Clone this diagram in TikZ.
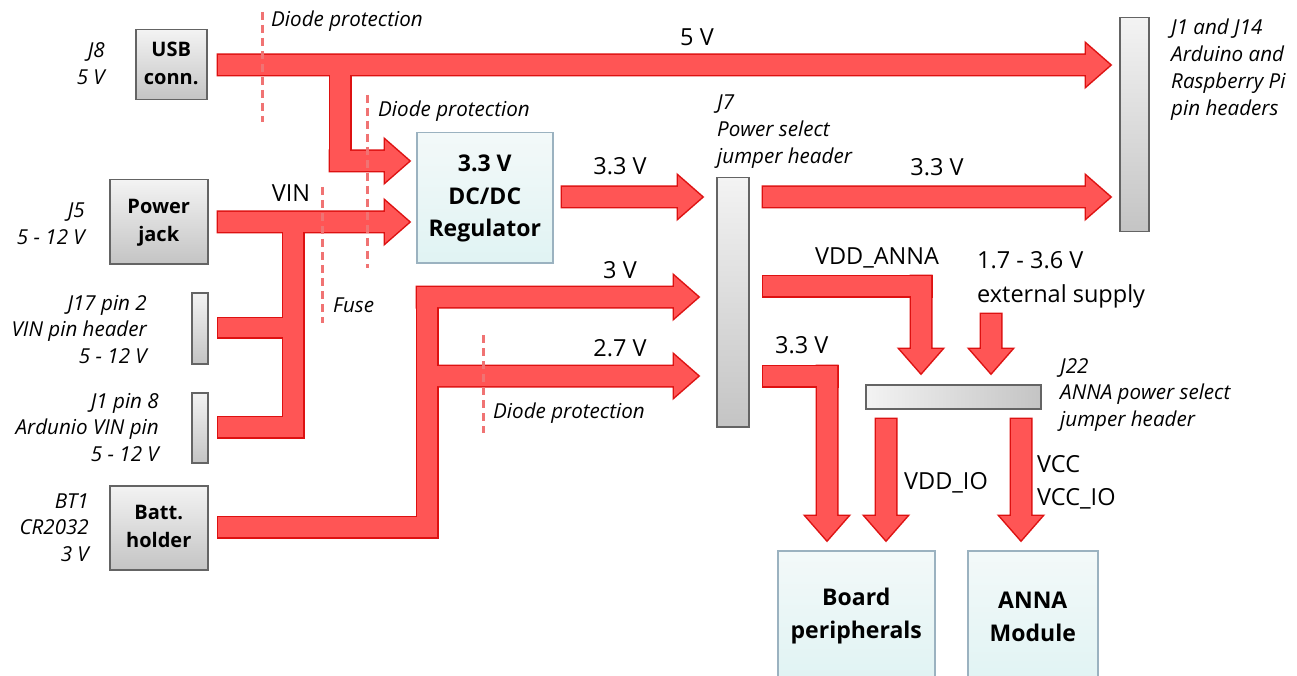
\documentclass[tikz,border=0pt]{standalone}
\usepackage{fontspec}
\setmainfont{Open Sans}
\usetikzlibrary{shadings}
\definecolor{redfill}{RGB}{255,85,85}
\definecolor{redline}{RGB}{221,17,17}
\definecolor{dashred}{RGB}{240,115,115}
\definecolor{grayline}{RGB}{100,100,100}
\definecolor{graytop}{RGB}{243,243,243}
\definecolor{graybot}{RGB}{196,196,196}
\definecolor{cyantop}{RGB}{243,249,249}
\definecolor{cyanbot}{RGB}{224,243,243}
\definecolor{cyanline}{RGB}{155,178,192}
\newcommand\graybf{\fontsize{20}{28}\selectfont\bfseries}
\newcommand\regbf{\fontsize{23}{32.5}\selectfont\bfseries}
\newcommand\bigbf{\fontsize{23}{33}\selectfont\bfseries}
\newcommand\italfont{\fontsize{20.6}{26.7}\selectfont\itshape}
\newcommand\plainfont{\fontsize{23.5}{33}\selectfont}
\newcommand\lines[2]{\begin{tabular}[t]{@{}#1@{}}#2\end{tabular}}
\newcommand\cl[1]{\begin{tabular}{@{}c@{}}#1\end{tabular}}
\newcommand\rarr[3]{\path[redshape] (#1,#3-10) -- (#2-24,#3-10) -- (#2-24,#3-21) -- (#2,#3) -- (#2-24,#3+21) -- (#2-24,#3+10) -- (#1,#3+10) -- cycle;}
\newcommand\darr[3]{\path[redshape] (#1-10,#2) -- (#1+10,#2) -- (#1+10,#3-24) -- (#1+21,#3-24) -- (#1,#3) -- (#1-21,#3-24) -- (#1-10,#3-24) -- cycle;}
\newcommand\rectshape[4]{\path[redshape] (#1,#2) rectangle (#3,#4);}
\newcommand\redshapes{%
  \rarr{218}{1110}{65}
  \rectshape{330}{65}{350}{171}
  \rarr{330}{409}{161}
  \rarr{218}{409}{222}
  \rectshape{283}{222}{303}{437}
  \rectshape{218}{318}{303}{337}
  \rectshape{218}{417}{303}{437}
  \rectshape{218}{517}{437}{537}
  \rectshape{417}{287}{437}{537}
  \rarr{417}{698}{297}
  \rarr{437}{698}{376}
  \rarr{562}{702}{197}
  \rarr{763}{1110}{197}
  \rectshape{763}{276}{931}{296}
  \darr{921}{276}{373}
  \darr{991}{314}{373}
  \rectshape{763}{366}{837}{386}
  \darr{827}{366}{540}
  \darr{886}{419}{540}
  \darr{1021}{419}{540}
}
\tikzset{
  graybox/.style={draw=grayline, line width=1.5pt, top color=graytop, bottom color=graybot, inner sep=0pt, anchor=north west, font=\graybf},
  hdr/.style={draw=grayline, line width=1.5pt, top color=graytop, bottom color=graybot, inner sep=0pt, anchor=north west},
  cyanbox/.style={draw=cyanline, line width=1.5pt, top color=cyantop, bottom color=cyanbot, inner sep=0pt, anchor=north west},
  ital/.style={inner sep=0pt, font=\italfont},
  plain/.style={inner sep=0pt, font=\plainfont},
  protect/.style={draw=dashred, line width=3pt, dash pattern=on 8pt off 5pt},
}
\begin{document}
\begin{tikzpicture}[x=1pt,y=-1pt]
\useasboundingbox (0,0) rectangle (1297,676);
\clip (0,0) rectangle (1297,676);
\fill[white] (0,0) rectangle (1297,676);
% thick power arrows: outline pass, then fill pass
\tikzset{redshape/.style={draw=redline, fill=redline, line width=3pt, line join=miter}}
\redshapes
\tikzset{redshape/.style={fill=redfill}}
\redshapes
% protection / fuse marks
\draw[protect] (262,12) -- (262,122);
\draw[protect] (367,95) -- (367,268);
\draw[protect] (322,187) -- (322,323);
\draw[protect] (483,335) -- (483,433);
% boxes
\node[graybox, minimum width=71pt, minimum height=70pt] (usb) at (135,29) {\cl{USB\\conn.}};
\node[graybox, minimum width=98pt, minimum height=84pt] (jack) at (109,179) {\cl{Power\\jack}};
\node[hdr, minimum width=16pt, minimum height=71pt] (hdra) at (191,292) {};
\node[hdr, minimum width=16pt, minimum height=70pt] (hdrb) at (191,392) {};
\node[graybox, minimum width=98pt, minimum height=84pt] (batt) at (109,485) {\cl{Batt.\\holder}};
\node[cyanbox, minimum width=136pt, minimum height=130pt, font=\regbf] (reg) at (416,132) {\cl{3.3 V\\DC/DC\\Regulator}};
\node[hdr, minimum width=32pt, minimum height=249pt] (jseven) at (716,177) {};
\node[hdr, minimum width=29pt, minimum height=214pt] (jone) at (1119,17) {};
\node[draw=grayline, line width=1.5pt, left color=graytop, right color=graybot, inner sep=0pt, anchor=north west, minimum width=175pt, minimum height=24pt] (jtt) at (865,384) {};
\node[cyanbox, minimum width=157pt, minimum height=130pt, font=\bigbf] (board) at (777,550) {\cl{Board\\peripherals}};
\node[cyanbox, minimum width=130pt, minimum height=135pt, font=\bigbf] (anna) at (967,550) {\cl{ANNA\\Module}};
% italic labels
\node[ital, anchor=base east] (lusb) at (105,58) {\lines{r}{J8\\5 V}};
\node[ital, anchor=base east] (ljack) at (85,218) {\lines{r}{J5\\5 - 12 V}};
\node[ital, anchor=base east] (lhdra) at (147,310) {\lines{r}{J17 pin 2\\VIN pin header\\5 - 12 V}};
\node[ital, anchor=base east] (lhdrb) at (159,408) {\lines{r}{J1 pin 8\\Ardunio VIN pin\\5 - 12 V}};
\node[ital, anchor=base east] (lbatt) at (89,508) {\lines{r}{BT1\\CR2032\\3 V}};
\node[ital, anchor=base west] (ljseven) at (717,110) {\lines{l}{J7\\Power select\\jumper header}};
\node[ital, anchor=base west] (ljone) at (1171,35) {\lines{l}{J1 and J14\\Arduino and\\Raspberry Pi\\pin headers}};
\node[ital, anchor=base west] (ljtt) at (1060,373) {\lines{l}{J22\\ANNA power select\\jumper header}};
\node[ital, anchor=base west] (dp1) at (271,27) {Diode protection};
\node[ital, anchor=base west] (dp2) at (378,117) {Diode protection};
\node[ital, anchor=base west] (fuse) at (333,312) {Fuse};
\node[ital, anchor=base west] (dp3) at (493,418) {Diode protection};
% plain voltage labels
\node[plain, anchor=base] (l5v) at (697,46) {5 V};
\node[plain, anchor=base] (lvin) at (291,202) {VIN};
\node[plain, anchor=base] (lreg) at (620,175) {3.3 V};
\node[plain, anchor=base] (l3v) at (620,278) {3 V};
\node[plain, anchor=base] (l27v) at (620,356) {2.7 V};
\node[plain, anchor=base] (l33a) at (937,176) {3.3 V};
\node[plain, anchor=base] (lvdda) at (877,264) {VDD\_ANNA};
\node[plain, anchor=base west] (lext) at (977,269) {\lines{l}{1.7 - 3.6 V\\external supply}};
\node[plain, anchor=base west] (l33b) at (775,353) {3.3 V};
\node[plain, anchor=base west] (lvddio) at (904,489) {VDD\_IO};
\node[plain, anchor=base west] (lvcc) at (1037,472) {\lines{l}{VCC\\VCC\_IO}};
\end{tikzpicture}
\end{document}
